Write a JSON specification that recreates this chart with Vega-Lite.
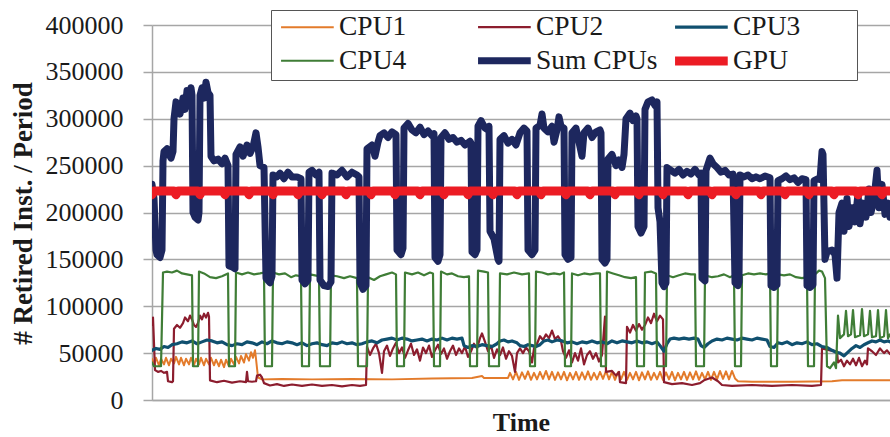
{
"$schema": "https://vega.github.io/schema/vega-lite/v6.json",
"width": 738, "height": 375,
"autosize": {"type": "none"},
"padding": {"left": 152, "top": 25, "right": 0, "bottom": 37},
"background": "white",
"config": {
  "view": {"stroke": null},
  "font": "Liberation Serif",
  "legend": {
    "orient": "none", "legendX": 119, "legendY": -15, "direction": "horizontal", "columns": 3,
    "symbolType": "M-2.85,0H2.85", "symbolSize": 342, "symbolOffset": 21.4, "labelOffset": 17.6,
    "labelFont": "Liberation Serif", "labelFontSize": 27.5,
    "labelColor": "#1a1a1a", "strokeColor": "#555555", "fillColor": "white", "padding": 1,
    "rowPadding": 0, "columnPadding": -1, "gridAlign": "all", "labelLimit": 300,
    "titleOrient": "right", "titlePadding": 56, "titleFontSize": 4
  }
},
"data": {"values": [
{"s":"CPU1","t":0,"v":44000},{"s":"CPU1","t":2,"v":38000},{"s":"CPU1","t":4,"v":45000},{"s":"CPU1","t":7,"v":37000},{"s":"CPU1","t":9,"v":44000},{"s":"CPU1","t":12,"v":38000},{"s":"CPU1","t":14,"v":45000},{"s":"CPU1","t":17,"v":37000},{"s":"CPU1","t":19,"v":44000},{"s":"CPU1","t":22,"v":39000},{"s":"CPU1","t":24,"v":46000},{"s":"CPU1","t":27,"v":38000},{"s":"CPU1","t":29,"v":45000},{"s":"CPU1","t":32,"v":37000},{"s":"CPU1","t":34,"v":44000},{"s":"CPU1","t":37,"v":38000},{"s":"CPU1","t":39,"v":45000},{"s":"CPU1","t":42,"v":37000},{"s":"CPU1","t":44,"v":44000},{"s":"CPU1","t":47,"v":38000},{"s":"CPU1","t":49,"v":45000},{"s":"CPU1","t":52,"v":37000},{"s":"CPU1","t":54,"v":44000},{"s":"CPU1","t":57,"v":38000},{"s":"CPU1","t":59,"v":45000},{"s":"CPU1","t":62,"v":37000},{"s":"CPU1","t":64,"v":43000},{"s":"CPU1","t":67,"v":36000},{"s":"CPU1","t":69,"v":43000},{"s":"CPU1","t":72,"v":35000},{"s":"CPU1","t":74,"v":43000},{"s":"CPU1","t":77,"v":36000},{"s":"CPU1","t":79,"v":44000},{"s":"CPU1","t":82,"v":38000},{"s":"CPU1","t":84,"v":46000},{"s":"CPU1","t":87,"v":39000},{"s":"CPU1","t":89,"v":47000},{"s":"CPU1","t":92,"v":40000},{"s":"CPU1","t":94,"v":49000},{"s":"CPU1","t":97,"v":42000},{"s":"CPU1","t":99,"v":51000},{"s":"CPU1","t":101,"v":45000},{"s":"CPU1","t":103,"v":53000},{"s":"CPU1","t":104,"v":44000},{"s":"CPU1","t":106,"v":24000},{"s":"CPU1","t":110,"v":22000},{"s":"CPU1","t":130,"v":22500},{"s":"CPU1","t":160,"v":22000},{"s":"CPU1","t":200,"v":22500},{"s":"CPU1","t":240,"v":22000},{"s":"CPU1","t":280,"v":23000},{"s":"CPU1","t":320,"v":23500},{"s":"CPU1","t":330,"v":25500},{"s":"CPU1","t":332,"v":23500},{"s":"CPU1","t":354,"v":23500},
{"s":"CPU1","t":356,"v":23500},{"s":"CPU1","t":358,"v":29000},{"s":"CPU1","t":361,"v":22000},{"s":"CPU1","t":364,"v":30000},{"s":"CPU1","t":367,"v":21500},{"s":"CPU1","t":370,"v":29500},{"s":"CPU1","t":373,"v":22500},{"s":"CPU1","t":376,"v":30500},{"s":"CPU1","t":379,"v":21500},{"s":"CPU1","t":382,"v":29000},{"s":"CPU1","t":385,"v":22000},{"s":"CPU1","t":388,"v":30000},{"s":"CPU1","t":391,"v":22500},{"s":"CPU1","t":394,"v":31000},{"s":"CPU1","t":397,"v":22000},{"s":"CPU1","t":400,"v":30000},{"s":"CPU1","t":403,"v":21500},{"s":"CPU1","t":406,"v":29500},{"s":"CPU1","t":409,"v":22000},{"s":"CPU1","t":412,"v":30000},{"s":"CPU1","t":415,"v":21000},{"s":"CPU1","t":418,"v":29000},{"s":"CPU1","t":421,"v":22000},{"s":"CPU1","t":424,"v":30000},{"s":"CPU1","t":427,"v":21500},{"s":"CPU1","t":430,"v":29500},{"s":"CPU1","t":433,"v":22000},{"s":"CPU1","t":436,"v":30500},{"s":"CPU1","t":439,"v":21500},{"s":"CPU1","t":442,"v":29000},{"s":"CPU1","t":445,"v":22000},{"s":"CPU1","t":448,"v":30000},{"s":"CPU1","t":451,"v":22500},{"s":"CPU1","t":454,"v":31000},{"s":"CPU1","t":457,"v":22000},{"s":"CPU1","t":460,"v":30000},{"s":"CPU1","t":463,"v":21500},{"s":"CPU1","t":466,"v":29500},{"s":"CPU1","t":469,"v":22000},{"s":"CPU1","t":472,"v":30000},{"s":"CPU1","t":475,"v":21500},{"s":"CPU1","t":478,"v":29000},{"s":"CPU1","t":481,"v":22000},{"s":"CPU1","t":484,"v":30000},{"s":"CPU1","t":487,"v":21000},{"s":"CPU1","t":490,"v":29500},{"s":"CPU1","t":493,"v":22000},{"s":"CPU1","t":496,"v":30500},{"s":"CPU1","t":499,"v":21500},{"s":"CPU1","t":502,"v":29000},{"s":"CPU1","t":505,"v":22000},{"s":"CPU1","t":508,"v":30000},{"s":"CPU1","t":511,"v":21500},{"s":"CPU1","t":514,"v":29500},{"s":"CPU1","t":517,"v":22000},{"s":"CPU1","t":520,"v":30000},{"s":"CPU1","t":523,"v":21000},{"s":"CPU1","t":526,"v":29000},{"s":"CPU1","t":529,"v":22000},{"s":"CPU1","t":532,"v":30000},{"s":"CPU1","t":535,"v":21500},{"s":"CPU1","t":538,"v":29500},{"s":"CPU1","t":541,"v":22000},{"s":"CPU1","t":544,"v":30500},{"s":"CPU1","t":547,"v":21500},{"s":"CPU1","t":550,"v":29000},{"s":"CPU1","t":553,"v":22000},{"s":"CPU1","t":556,"v":30000},{"s":"CPU1","t":559,"v":21500},{"s":"CPU1","t":562,"v":30000},{"s":"CPU1","t":565,"v":22000},{"s":"CPU1","t":568,"v":31000},{"s":"CPU1","t":571,"v":22500},{"s":"CPU1","t":574,"v":30500},{"s":"CPU1","t":577,"v":22000},{"s":"CPU1","t":580,"v":31000},{"s":"CPU1","t":583,"v":23000},{"s":"CPU1","t":586,"v":20000},{"s":"CPU1","t":600,"v":19500},{"s":"CPU1","t":640,"v":19500},{"s":"CPU1","t":680,"v":20000},{"s":"CPU1","t":690,"v":21000},{"s":"CPU1","t":738,"v":21000},
{"s":"CPU2","t":0,"v":80000},{"s":"CPU2","t":1,"v":88000},{"s":"CPU2","t":2,"v":60000},{"s":"CPU2","t":3,"v":32000},{"s":"CPU2","t":6,"v":30000},{"s":"CPU2","t":9,"v":31000},{"s":"CPU2","t":12,"v":29000},{"s":"CPU2","t":15,"v":30000},{"s":"CPU2","t":16,"v":20000},{"s":"CPU2","t":20,"v":19000},{"s":"CPU2","t":21,"v":20000},{"s":"CPU2","t":22,"v":76000},{"s":"CPU2","t":25,"v":80000},{"s":"CPU2","t":28,"v":77000},{"s":"CPU2","t":31,"v":82000},{"s":"CPU2","t":33,"v":88000},{"s":"CPU2","t":36,"v":84000},{"s":"CPU2","t":38,"v":90000},{"s":"CPU2","t":40,"v":86000},{"s":"CPU2","t":42,"v":80000},{"s":"CPU2","t":44,"v":78000},{"s":"CPU2","t":46,"v":82000},{"s":"CPU2","t":48,"v":90000},{"s":"CPU2","t":50,"v":86000},{"s":"CPU2","t":52,"v":92000},{"s":"CPU2","t":54,"v":88000},{"s":"CPU2","t":56,"v":93000},{"s":"CPU2","t":57,"v":89000},{"s":"CPU2","t":58,"v":21000},{"s":"CPU2","t":65,"v":19000},{"s":"CPU2","t":72,"v":20500},{"s":"CPU2","t":80,"v":18500},{"s":"CPU2","t":88,"v":20000},{"s":"CPU2","t":94,"v":19000},{"s":"CPU2","t":95,"v":30000},{"s":"CPU2","t":96,"v":20000},{"s":"CPU2","t":100,"v":19500},{"s":"CPU2","t":104,"v":20000},{"s":"CPU2","t":105,"v":26000},{"s":"CPU2","t":108,"v":27000},{"s":"CPU2","t":110,"v":24000},{"s":"CPU2","t":112,"v":18000},{"s":"CPU2","t":118,"v":15500},{"s":"CPU2","t":125,"v":17000},{"s":"CPU2","t":132,"v":15000},{"s":"CPU2","t":140,"v":16500},{"s":"CPU2","t":150,"v":15000},{"s":"CPU2","t":160,"v":16500},{"s":"CPU2","t":170,"v":15000},{"s":"CPU2","t":180,"v":16000},{"s":"CPU2","t":190,"v":14500},{"s":"CPU2","t":200,"v":16000},{"s":"CPU2","t":208,"v":15000},{"s":"CPU2","t":214,"v":16000},
{"s":"CPU2","t":215,"v":57000},{"s":"CPU2","t":218,"v":48000},{"s":"CPU2","t":221,"v":55000},{"s":"CPU2","t":224,"v":60000},{"s":"CPU2","t":227,"v":50000},{"s":"CPU2","t":230,"v":29000},{"s":"CPU2","t":232,"v":52000},{"s":"CPU2","t":235,"v":58000},{"s":"CPU2","t":238,"v":47000},{"s":"CPU2","t":241,"v":55000},{"s":"CPU2","t":244,"v":61000},{"s":"CPU2","t":247,"v":50000},{"s":"CPU2","t":250,"v":56000},{"s":"CPU2","t":253,"v":45000},{"s":"CPU2","t":256,"v":53000},{"s":"CPU2","t":259,"v":60000},{"s":"CPU2","t":262,"v":48000},{"s":"CPU2","t":265,"v":54000},{"s":"CPU2","t":268,"v":42000},{"s":"CPU2","t":271,"v":56000},{"s":"CPU2","t":274,"v":50000},{"s":"CPU2","t":277,"v":58000},{"s":"CPU2","t":280,"v":46000},{"s":"CPU2","t":283,"v":53000},{"s":"CPU2","t":286,"v":59000},{"s":"CPU2","t":289,"v":49000},{"s":"CPU2","t":292,"v":55000},{"s":"CPU2","t":295,"v":44000},{"s":"CPU2","t":298,"v":52000},{"s":"CPU2","t":301,"v":58000},{"s":"CPU2","t":304,"v":48000},{"s":"CPU2","t":307,"v":55000},{"s":"CPU2","t":310,"v":50000},{"s":"CPU2","t":313,"v":57000},{"s":"CPU2","t":316,"v":46000},{"s":"CPU2","t":319,"v":52000},{"s":"CPU2","t":322,"v":60000},{"s":"CPU2","t":325,"v":55000},{"s":"CPU2","t":328,"v":66000},{"s":"CPU2","t":330,"v":71000},{"s":"CPU2","t":333,"v":62000},{"s":"CPU2","t":336,"v":52000},{"s":"CPU2","t":339,"v":58000},{"s":"CPU2","t":342,"v":45000},{"s":"CPU2","t":345,"v":54000},{"s":"CPU2","t":348,"v":48000},{"s":"CPU2","t":351,"v":56000},{"s":"CPU2","t":354,"v":44000},{"s":"CPU2","t":357,"v":52000},{"s":"CPU2","t":360,"v":47000},{"s":"CPU2","t":363,"v":30000},{"s":"CPU2","t":365,"v":50000},{"s":"CPU2","t":368,"v":55000},{"s":"CPU2","t":371,"v":50000},{"s":"CPU2","t":374,"v":56000},{"s":"CPU2","t":377,"v":52000},{"s":"CPU2","t":380,"v":40000},{"s":"CPU2","t":382,"v":55000},{"s":"CPU2","t":385,"v":60000},{"s":"CPU2","t":388,"v":68000},{"s":"CPU2","t":391,"v":64000},{"s":"CPU2","t":394,"v":70000},{"s":"CPU2","t":397,"v":66000},{"s":"CPU2","t":400,"v":74000},{"s":"CPU2","t":403,"v":65000},{"s":"CPU2","t":406,"v":68000},{"s":"CPU2","t":409,"v":63000},{"s":"CPU2","t":411,"v":52000},{"s":"CPU2","t":414,"v":45000},{"s":"CPU2","t":417,"v":53000},{"s":"CPU2","t":420,"v":40000},{"s":"CPU2","t":423,"v":50000},{"s":"CPU2","t":426,"v":42000},{"s":"CPU2","t":429,"v":55000},{"s":"CPU2","t":432,"v":38000},{"s":"CPU2","t":435,"v":48000},{"s":"CPU2","t":438,"v":52000},{"s":"CPU2","t":441,"v":44000},{"s":"CPU2","t":444,"v":50000},{"s":"CPU2","t":447,"v":41000},{"s":"CPU2","t":450,"v":48000},{"s":"CPU2","t":453,"v":89000},{"s":"CPU2","t":454,"v":30000},{"s":"CPU2","t":460,"v":31000},{"s":"CPU2","t":464,"v":26000},{"s":"CPU2","t":467,"v":30000},{"s":"CPU2","t":468,"v":19000},{"s":"CPU2","t":474,"v":18000},{"s":"CPU2","t":475,"v":78000},{"s":"CPU2","t":478,"v":72000},{"s":"CPU2","t":481,"v":80000},{"s":"CPU2","t":484,"v":74000},{"s":"CPU2","t":487,"v":81000},{"s":"CPU2","t":490,"v":75000},{"s":"CPU2","t":493,"v":80000},{"s":"CPU2","t":496,"v":88000},{"s":"CPU2","t":499,"v":82000},{"s":"CPU2","t":502,"v":92000},{"s":"CPU2","t":505,"v":84000},{"s":"CPU2","t":508,"v":90000},{"s":"CPU2","t":511,"v":86000},{"s":"CPU2","t":512,"v":19000},{"s":"CPU2","t":520,"v":17000},{"s":"CPU2","t":530,"v":18000},{"s":"CPU2","t":540,"v":16000},{"s":"CPU2","t":548,"v":18000},{"s":"CPU2","t":552,"v":21000},{"s":"CPU2","t":560,"v":24000},{"s":"CPU2","t":566,"v":20000},{"s":"CPU2","t":570,"v":16000},{"s":"CPU2","t":580,"v":15000},{"s":"CPU2","t":600,"v":16000},{"s":"CPU2","t":620,"v":15000},{"s":"CPU2","t":640,"v":16000},{"s":"CPU2","t":660,"v":15000},{"s":"CPU2","t":669,"v":16000},{"s":"CPU2","t":670,"v":55000},{"s":"CPU2","t":678,"v":53000},{"s":"CPU2","t":685,"v":52000},{"s":"CPU2","t":686,"v":40000},{"s":"CPU2","t":689,"v":43000},{"s":"CPU2","t":692,"v":36000},{"s":"CPU2","t":695,"v":42000},{"s":"CPU2","t":698,"v":38000},{"s":"CPU2","t":701,"v":44000},{"s":"CPU2","t":704,"v":37000},{"s":"CPU2","t":707,"v":45000},{"s":"CPU2","t":710,"v":36000},{"s":"CPU2","t":713,"v":42000},{"s":"CPU2","t":715,"v":38000},{"s":"CPU2","t":716,"v":55000},{"s":"CPU2","t":720,"v":52000},{"s":"CPU2","t":724,"v":48000},{"s":"CPU2","t":728,"v":55000},{"s":"CPU2","t":732,"v":50000},{"s":"CPU2","t":735,"v":53000},{"s":"CPU2","t":738,"v":49000},
{"s":"CPU3","t":0,"v":53000},{"s":"CPU3","t":4,"v":55000},{"s":"CPU3","t":8,"v":54000},{"s":"CPU3","t":12,"v":57000},{"s":"CPU3","t":16,"v":56000},{"s":"CPU3","t":20,"v":59000},{"s":"CPU3","t":25,"v":60000},{"s":"CPU3","t":30,"v":62000},{"s":"CPU3","t":35,"v":61000},{"s":"CPU3","t":40,"v":63000},{"s":"CPU3","t":45,"v":60000},{"s":"CPU3","t":50,"v":62000},{"s":"CPU3","t":55,"v":64000},{"s":"CPU3","t":60,"v":63000},{"s":"CPU3","t":65,"v":61000},{"s":"CPU3","t":70,"v":62000},{"s":"CPU3","t":75,"v":59000},{"s":"CPU3","t":80,"v":58000},{"s":"CPU3","t":85,"v":60000},{"s":"CPU3","t":90,"v":59000},{"s":"CPU3","t":95,"v":62000},{"s":"CPU3","t":100,"v":61000},{"s":"CPU3","t":105,"v":59000},{"s":"CPU3","t":110,"v":62000},{"s":"CPU3","t":115,"v":60000},{"s":"CPU3","t":120,"v":63000},{"s":"CPU3","t":125,"v":61000},{"s":"CPU3","t":130,"v":60000},{"s":"CPU3","t":135,"v":62000},{"s":"CPU3","t":140,"v":61000},{"s":"CPU3","t":145,"v":59000},{"s":"CPU3","t":150,"v":61000},{"s":"CPU3","t":155,"v":58000},{"s":"CPU3","t":160,"v":60000},{"s":"CPU3","t":165,"v":61000},{"s":"CPU3","t":170,"v":59000},{"s":"CPU3","t":175,"v":58000},{"s":"CPU3","t":180,"v":61000},{"s":"CPU3","t":185,"v":60000},{"s":"CPU3","t":190,"v":62000},{"s":"CPU3","t":195,"v":60000},{"s":"CPU3","t":200,"v":61000},{"s":"CPU3","t":205,"v":59000},{"s":"CPU3","t":210,"v":60000},{"s":"CPU3","t":215,"v":62000},{"s":"CPU3","t":220,"v":63000},{"s":"CPU3","t":225,"v":61000},{"s":"CPU3","t":230,"v":64000},{"s":"CPU3","t":235,"v":65000},{"s":"CPU3","t":240,"v":66000},{"s":"CPU3","t":245,"v":64000},{"s":"CPU3","t":250,"v":66000},{"s":"CPU3","t":255,"v":65000},{"s":"CPU3","t":260,"v":63000},{"s":"CPU3","t":265,"v":64000},{"s":"CPU3","t":270,"v":65000},{"s":"CPU3","t":275,"v":63000},{"s":"CPU3","t":280,"v":65000},{"s":"CPU3","t":285,"v":64000},{"s":"CPU3","t":290,"v":66000},{"s":"CPU3","t":295,"v":64000},{"s":"CPU3","t":300,"v":66000},{"s":"CPU3","t":305,"v":65000},{"s":"CPU3","t":310,"v":66000},{"s":"CPU3","t":312,"v":58000},{"s":"CPU3","t":316,"v":56000},{"s":"CPU3","t":320,"v":58000},{"s":"CPU3","t":325,"v":57000},{"s":"CPU3","t":330,"v":59000},{"s":"CPU3","t":335,"v":58000},{"s":"CPU3","t":340,"v":57000},{"s":"CPU3","t":345,"v":60000},{"s":"CPU3","t":348,"v":63000},{"s":"CPU3","t":352,"v":64000},{"s":"CPU3","t":356,"v":62000},{"s":"CPU3","t":360,"v":63000},{"s":"CPU3","t":365,"v":61000},{"s":"CPU3","t":368,"v":58000},{"s":"CPU3","t":372,"v":57000},{"s":"CPU3","t":376,"v":59000},{"s":"CPU3","t":380,"v":58000},{"s":"CPU3","t":384,"v":57000},{"s":"CPU3","t":388,"v":59000},{"s":"CPU3","t":392,"v":63000},{"s":"CPU3","t":396,"v":64000},{"s":"CPU3","t":400,"v":62000},{"s":"CPU3","t":405,"v":64000},{"s":"CPU3","t":410,"v":63000},{"s":"CPU3","t":415,"v":61000},{"s":"CPU3","t":420,"v":62000},{"s":"CPU3","t":425,"v":60000},{"s":"CPU3","t":430,"v":62000},{"s":"CPU3","t":435,"v":61000},{"s":"CPU3","t":440,"v":63000},{"s":"CPU3","t":445,"v":61000},{"s":"CPU3","t":450,"v":62000},{"s":"CPU3","t":455,"v":60000},{"s":"CPU3","t":460,"v":63000},{"s":"CPU3","t":465,"v":61000},{"s":"CPU3","t":470,"v":63000},{"s":"CPU3","t":475,"v":62000},{"s":"CPU3","t":480,"v":61000},{"s":"CPU3","t":485,"v":63000},{"s":"CPU3","t":490,"v":61000},{"s":"CPU3","t":495,"v":62000},{"s":"CPU3","t":500,"v":60000},{"s":"CPU3","t":505,"v":62000},{"s":"CPU3","t":508,"v":58000},{"s":"CPU3","t":512,"v":52000},{"s":"CPU3","t":515,"v":60000},{"s":"CPU3","t":518,"v":65000},{"s":"CPU3","t":522,"v":66000},{"s":"CPU3","t":527,"v":65000},{"s":"CPU3","t":532,"v":66000},{"s":"CPU3","t":537,"v":65000},{"s":"CPU3","t":542,"v":66000},{"s":"CPU3","t":546,"v":65000},{"s":"CPU3","t":549,"v":58000},{"s":"CPU3","t":552,"v":56000},{"s":"CPU3","t":556,"v":60000},{"s":"CPU3","t":560,"v":63000},{"s":"CPU3","t":565,"v":65000},{"s":"CPU3","t":570,"v":64000},{"s":"CPU3","t":575,"v":66000},{"s":"CPU3","t":580,"v":65000},{"s":"CPU3","t":585,"v":64000},{"s":"CPU3","t":590,"v":66000},{"s":"CPU3","t":595,"v":65000},{"s":"CPU3","t":600,"v":64000},{"s":"CPU3","t":605,"v":66000},{"s":"CPU3","t":610,"v":65000},{"s":"CPU3","t":615,"v":64000},{"s":"CPU3","t":618,"v":57000},{"s":"CPU3","t":622,"v":56000},{"s":"CPU3","t":626,"v":61000},{"s":"CPU3","t":630,"v":60000},{"s":"CPU3","t":635,"v":62000},{"s":"CPU3","t":640,"v":59000},{"s":"CPU3","t":645,"v":61000},{"s":"CPU3","t":650,"v":60000},{"s":"CPU3","t":655,"v":62000},{"s":"CPU3","t":660,"v":59000},{"s":"CPU3","t":665,"v":60000},{"s":"CPU3","t":670,"v":57000},{"s":"CPU3","t":675,"v":56000},{"s":"CPU3","t":680,"v":53000},{"s":"CPU3","t":684,"v":51000},{"s":"CPU3","t":688,"v":50000},{"s":"CPU3","t":692,"v":47000},{"s":"CPU3","t":696,"v":51000},{"s":"CPU3","t":700,"v":55000},{"s":"CPU3","t":704,"v":58000},{"s":"CPU3","t":708,"v":56000},{"s":"CPU3","t":712,"v":59000},{"s":"CPU3","t":716,"v":61000},{"s":"CPU3","t":720,"v":63000},{"s":"CPU3","t":724,"v":62000},{"s":"CPU3","t":728,"v":64000},{"s":"CPU3","t":732,"v":62000},{"s":"CPU3","t":736,"v":63000},{"s":"CPU3","t":738,"v":62000},
{"s":"CPU4","t":0,"v":40000},{"s":"CPU4","t":2,"v":36000},{"s":"CPU4","t":9,"v":36000},{"s":"CPU4","t":11,"v":136000},{"s":"CPU4","t":15,"v":137000},{"s":"CPU4","t":20,"v":136000},{"s":"CPU4","t":25,"v":138000},{"s":"CPU4","t":30,"v":135000},{"s":"CPU4","t":35,"v":134000},{"s":"CPU4","t":40,"v":133000},{"s":"CPU4","t":41,"v":36000},{"s":"CPU4","t":46,"v":36000},{"s":"CPU4","t":47,"v":137000},{"s":"CPU4","t":52,"v":135000},{"s":"CPU4","t":58,"v":131000},{"s":"CPU4","t":64,"v":130000},{"s":"CPU4","t":70,"v":132000},{"s":"CPU4","t":76,"v":135000},{"s":"CPU4","t":77,"v":36000},{"s":"CPU4","t":83,"v":36000},{"s":"CPU4","t":84,"v":136000},{"s":"CPU4","t":90,"v":134000},{"s":"CPU4","t":96,"v":136000},{"s":"CPU4","t":102,"v":134000},{"s":"CPU4","t":108,"v":135000},{"s":"CPU4","t":112,"v":136000},{"s":"CPU4","t":113,"v":36000},{"s":"CPU4","t":120,"v":36000},{"s":"CPU4","t":121,"v":136000},{"s":"CPU4","t":127,"v":134000},{"s":"CPU4","t":133,"v":135000},{"s":"CPU4","t":139,"v":131000},{"s":"CPU4","t":144,"v":133000},{"s":"CPU4","t":149,"v":132000},{"s":"CPU4","t":150,"v":36000},{"s":"CPU4","t":157,"v":36000},{"s":"CPU4","t":158,"v":134000},{"s":"CPU4","t":163,"v":133000},{"s":"CPU4","t":167,"v":132000},{"s":"CPU4","t":168,"v":36000},{"s":"CPU4","t":178,"v":36000},{"s":"CPU4","t":179,"v":133000},{"s":"CPU4","t":185,"v":132000},{"s":"CPU4","t":192,"v":130000},{"s":"CPU4","t":198,"v":132000},{"s":"CPU4","t":205,"v":130000},{"s":"CPU4","t":206,"v":36000},{"s":"CPU4","t":215,"v":36000},{"s":"CPU4","t":216,"v":131000},{"s":"CPU4","t":222,"v":128000},{"s":"CPU4","t":228,"v":132000},{"s":"CPU4","t":234,"v":134000},{"s":"CPU4","t":240,"v":136000},{"s":"CPU4","t":244,"v":134000},{"s":"CPU4","t":245,"v":36000},{"s":"CPU4","t":252,"v":36000},{"s":"CPU4","t":253,"v":136000},{"s":"CPU4","t":260,"v":134000},{"s":"CPU4","t":266,"v":136000},{"s":"CPU4","t":272,"v":133000},{"s":"CPU4","t":278,"v":136000},{"s":"CPU4","t":281,"v":135000},{"s":"CPU4","t":282,"v":36000},{"s":"CPU4","t":288,"v":36000},{"s":"CPU4","t":289,"v":137000},{"s":"CPU4","t":295,"v":134000},{"s":"CPU4","t":300,"v":135000},{"s":"CPU4","t":306,"v":132000},{"s":"CPU4","t":312,"v":131000},{"s":"CPU4","t":317,"v":132000},{"s":"CPU4","t":318,"v":36000},{"s":"CPU4","t":325,"v":36000},{"s":"CPU4","t":326,"v":138000},{"s":"CPU4","t":332,"v":137000},{"s":"CPU4","t":336,"v":136000},{"s":"CPU4","t":337,"v":36000},{"s":"CPU4","t":347,"v":36000},{"s":"CPU4","t":348,"v":135000},{"s":"CPU4","t":355,"v":134000},{"s":"CPU4","t":362,"v":136000},{"s":"CPU4","t":370,"v":134000},{"s":"CPU4","t":377,"v":135000},{"s":"CPU4","t":378,"v":36000},{"s":"CPU4","t":383,"v":36000},{"s":"CPU4","t":384,"v":137000},{"s":"CPU4","t":390,"v":136000},{"s":"CPU4","t":396,"v":134000},{"s":"CPU4","t":402,"v":135000},{"s":"CPU4","t":408,"v":134000},{"s":"CPU4","t":412,"v":136000},{"s":"CPU4","t":413,"v":36000},{"s":"CPU4","t":419,"v":36000},{"s":"CPU4","t":420,"v":135000},{"s":"CPU4","t":426,"v":133000},{"s":"CPU4","t":432,"v":135000},{"s":"CPU4","t":438,"v":134000},{"s":"CPU4","t":444,"v":135000},{"s":"CPU4","t":448,"v":135000},{"s":"CPU4","t":449,"v":36000},{"s":"CPU4","t":454,"v":36000},{"s":"CPU4","t":455,"v":137000},{"s":"CPU4","t":461,"v":135000},{"s":"CPU4","t":467,"v":133000},{"s":"CPU4","t":473,"v":131000},{"s":"CPU4","t":479,"v":130000},{"s":"CPU4","t":484,"v":131000},{"s":"CPU4","t":485,"v":36000},{"s":"CPU4","t":492,"v":36000},{"s":"CPU4","t":493,"v":136000},{"s":"CPU4","t":499,"v":137000},{"s":"CPU4","t":504,"v":135000},{"s":"CPU4","t":505,"v":36000},{"s":"CPU4","t":514,"v":36000},{"s":"CPU4","t":515,"v":133000},{"s":"CPU4","t":521,"v":131000},{"s":"CPU4","t":527,"v":133000},{"s":"CPU4","t":533,"v":135000},{"s":"CPU4","t":539,"v":134000},{"s":"CPU4","t":543,"v":134000},{"s":"CPU4","t":544,"v":36000},{"s":"CPU4","t":552,"v":36000},{"s":"CPU4","t":553,"v":133000},{"s":"CPU4","t":560,"v":131000},{"s":"CPU4","t":566,"v":132000},{"s":"CPU4","t":572,"v":134000},{"s":"CPU4","t":578,"v":131000},{"s":"CPU4","t":582,"v":133000},{"s":"CPU4","t":583,"v":36000},{"s":"CPU4","t":589,"v":36000},{"s":"CPU4","t":590,"v":133000},{"s":"CPU4","t":596,"v":135000},{"s":"CPU4","t":602,"v":134000},{"s":"CPU4","t":608,"v":135000},{"s":"CPU4","t":614,"v":134000},{"s":"CPU4","t":618,"v":135000},{"s":"CPU4","t":619,"v":36000},{"s":"CPU4","t":625,"v":36000},{"s":"CPU4","t":626,"v":134000},{"s":"CPU4","t":632,"v":133000},{"s":"CPU4","t":638,"v":134000},{"s":"CPU4","t":644,"v":131000},{"s":"CPU4","t":650,"v":130000},{"s":"CPU4","t":655,"v":131000},{"s":"CPU4","t":656,"v":36000},{"s":"CPU4","t":662,"v":36000},{"s":"CPU4","t":663,"v":134000},{"s":"CPU4","t":667,"v":138000},{"s":"CPU4","t":670,"v":137000},{"s":"CPU4","t":673,"v":130000},{"s":"CPU4","t":675,"v":36000},{"s":"CPU4","t":678,"v":34000},{"s":"CPU4","t":682,"v":40000},{"s":"CPU4","t":684,"v":34000},{"s":"CPU4","t":686,"v":90000},{"s":"CPU4","t":688,"v":66000},{"s":"CPU4","t":692,"v":70000},{"s":"CPU4","t":694,"v":95000},{"s":"CPU4","t":696,"v":68000},{"s":"CPU4","t":699,"v":70000},{"s":"CPU4","t":701,"v":96000},{"s":"CPU4","t":703,"v":67000},{"s":"CPU4","t":708,"v":69000},{"s":"CPU4","t":710,"v":97000},{"s":"CPU4","t":712,"v":68000},{"s":"CPU4","t":716,"v":70000},{"s":"CPU4","t":718,"v":95000},{"s":"CPU4","t":720,"v":67000},{"s":"CPU4","t":724,"v":68000},{"s":"CPU4","t":726,"v":96000},{"s":"CPU4","t":728,"v":66000},{"s":"CPU4","t":732,"v":68000},{"s":"CPU4","t":734,"v":96000},{"s":"CPU4","t":736,"v":66000},{"s":"CPU4","t":738,"v":70000},
{"s":"Sum CPUs","t":0,"v":230000},{"s":"Sum CPUs","t":2,"v":215000},{"s":"Sum CPUs","t":4,"v":160000},{"s":"Sum CPUs","t":5,"v":155000},{"s":"Sum CPUs","t":8,"v":152000},{"s":"Sum CPUs","t":10,"v":160000},{"s":"Sum CPUs","t":11,"v":255000},{"s":"Sum CPUs","t":12,"v":265000},{"s":"Sum CPUs","t":15,"v":268000},{"s":"Sum CPUs","t":17,"v":262000},{"s":"Sum CPUs","t":19,"v":258000},{"s":"Sum CPUs","t":21,"v":265000},{"s":"Sum CPUs","t":22,"v":300000},{"s":"Sum CPUs","t":24,"v":318000},{"s":"Sum CPUs","t":26,"v":310000},{"s":"Sum CPUs","t":28,"v":305000},{"s":"Sum CPUs","t":30,"v":315000},{"s":"Sum CPUs","t":31,"v":322000},{"s":"Sum CPUs","t":33,"v":310000},{"s":"Sum CPUs","t":35,"v":330000},{"s":"Sum CPUs","t":37,"v":318000},{"s":"Sum CPUs","t":39,"v":333000},{"s":"Sum CPUs","t":40,"v":325000},{"s":"Sum CPUs","t":41,"v":200000},{"s":"Sum CPUs","t":43,"v":195000},{"s":"Sum CPUs","t":46,"v":192000},{"s":"Sum CPUs","t":47,"v":200000},{"s":"Sum CPUs","t":48,"v":325000},{"s":"Sum CPUs","t":50,"v":333000},{"s":"Sum CPUs","t":52,"v":322000},{"s":"Sum CPUs","t":54,"v":339000},{"s":"Sum CPUs","t":56,"v":328000},{"s":"Sum CPUs","t":58,"v":325000},{"s":"Sum CPUs","t":59,"v":260000},{"s":"Sum CPUs","t":62,"v":255000},{"s":"Sum CPUs","t":66,"v":257000},{"s":"Sum CPUs","t":70,"v":252000},{"s":"Sum CPUs","t":73,"v":258000},{"s":"Sum CPUs","t":76,"v":250000},{"s":"Sum CPUs","t":77,"v":143000},{"s":"Sum CPUs","t":80,"v":142000},{"s":"Sum CPUs","t":83,"v":140000},{"s":"Sum CPUs","t":84,"v":262000},{"s":"Sum CPUs","t":88,"v":270000},{"s":"Sum CPUs","t":91,"v":260000},{"s":"Sum CPUs","t":95,"v":272000},{"s":"Sum CPUs","t":98,"v":263000},{"s":"Sum CPUs","t":101,"v":270000},{"s":"Sum CPUs","t":104,"v":285000},{"s":"Sum CPUs","t":106,"v":270000},{"s":"Sum CPUs","t":108,"v":250000},{"s":"Sum CPUs","t":112,"v":248000},{"s":"Sum CPUs","t":114,"v":130000},{"s":"Sum CPUs","t":118,"v":125000},{"s":"Sum CPUs","t":120,"v":132000},{"s":"Sum CPUs","t":121,"v":240000},{"s":"Sum CPUs","t":125,"v":238000},{"s":"Sum CPUs","t":128,"v":242000},{"s":"Sum CPUs","t":132,"v":236000},{"s":"Sum CPUs","t":136,"v":243000},{"s":"Sum CPUs","t":140,"v":238000},{"s":"Sum CPUs","t":145,"v":238000},{"s":"Sum CPUs","t":149,"v":236000},{"s":"Sum CPUs","t":150,"v":128000},{"s":"Sum CPUs","t":153,"v":124000},{"s":"Sum CPUs","t":156,"v":128000},{"s":"Sum CPUs","t":157,"v":243000},{"s":"Sum CPUs","t":160,"v":245000},{"s":"Sum CPUs","t":164,"v":240000},{"s":"Sum CPUs","t":167,"v":243000},{"s":"Sum CPUs","t":168,"v":128000},{"s":"Sum CPUs","t":172,"v":122000},{"s":"Sum CPUs","t":176,"v":121000},{"s":"Sum CPUs","t":179,"v":126000},{"s":"Sum CPUs","t":180,"v":242000},{"s":"Sum CPUs","t":185,"v":240000},{"s":"Sum CPUs","t":190,"v":245000},{"s":"Sum CPUs","t":195,"v":238000},{"s":"Sum CPUs","t":200,"v":243000},{"s":"Sum CPUs","t":205,"v":240000},{"s":"Sum CPUs","t":207,"v":238000},{"s":"Sum CPUs","t":208,"v":125000},{"s":"Sum CPUs","t":211,"v":118000},{"s":"Sum CPUs","t":214,"v":122000},{"s":"Sum CPUs","t":215,"v":268000},{"s":"Sum CPUs","t":220,"v":272000},{"s":"Sum CPUs","t":223,"v":260000},{"s":"Sum CPUs","t":226,"v":275000},{"s":"Sum CPUs","t":228,"v":282000},{"s":"Sum CPUs","t":232,"v":285000},{"s":"Sum CPUs","t":236,"v":280000},{"s":"Sum CPUs","t":240,"v":286000},{"s":"Sum CPUs","t":244,"v":283000},{"s":"Sum CPUs","t":245,"v":160000},{"s":"Sum CPUs","t":249,"v":155000},{"s":"Sum CPUs","t":251,"v":162000},{"s":"Sum CPUs","t":252,"v":290000},{"s":"Sum CPUs","t":256,"v":295000},{"s":"Sum CPUs","t":260,"v":288000},{"s":"Sum CPUs","t":264,"v":285000},{"s":"Sum CPUs","t":268,"v":291000},{"s":"Sum CPUs","t":272,"v":283000},{"s":"Sum CPUs","t":276,"v":287000},{"s":"Sum CPUs","t":280,"v":282000},{"s":"Sum CPUs","t":282,"v":284000},{"s":"Sum CPUs","t":283,"v":152000},{"s":"Sum CPUs","t":286,"v":148000},{"s":"Sum CPUs","t":288,"v":155000},{"s":"Sum CPUs","t":289,"v":280000},{"s":"Sum CPUs","t":293,"v":285000},{"s":"Sum CPUs","t":297,"v":278000},{"s":"Sum CPUs","t":301,"v":280000},{"s":"Sum CPUs","t":305,"v":275000},{"s":"Sum CPUs","t":309,"v":277000},{"s":"Sum CPUs","t":313,"v":272000},{"s":"Sum CPUs","t":318,"v":276000},{"s":"Sum CPUs","t":319,"v":274000},{"s":"Sum CPUs","t":320,"v":158000},{"s":"Sum CPUs","t":323,"v":155000},{"s":"Sum CPUs","t":325,"v":160000},{"s":"Sum CPUs","t":326,"v":292000},{"s":"Sum CPUs","t":329,"v":298000},{"s":"Sum CPUs","t":333,"v":290000},{"s":"Sum CPUs","t":336,"v":288000},{"s":"Sum CPUs","t":337,"v":292000},{"s":"Sum CPUs","t":338,"v":180000},{"s":"Sum CPUs","t":342,"v":172000},{"s":"Sum CPUs","t":346,"v":150000},{"s":"Sum CPUs","t":347,"v":148000},{"s":"Sum CPUs","t":348,"v":278000},{"s":"Sum CPUs","t":352,"v":282000},{"s":"Sum CPUs","t":356,"v":274000},{"s":"Sum CPUs","t":360,"v":278000},{"s":"Sum CPUs","t":364,"v":272000},{"s":"Sum CPUs","t":368,"v":285000},{"s":"Sum CPUs","t":372,"v":290000},{"s":"Sum CPUs","t":375,"v":287000},{"s":"Sum CPUs","t":376,"v":160000},{"s":"Sum CPUs","t":380,"v":155000},{"s":"Sum CPUs","t":383,"v":160000},{"s":"Sum CPUs","t":384,"v":290000},{"s":"Sum CPUs","t":388,"v":293000},{"s":"Sum CPUs","t":390,"v":305000},{"s":"Sum CPUs","t":392,"v":290000},{"s":"Sum CPUs","t":396,"v":286000},{"s":"Sum CPUs","t":400,"v":292000},{"s":"Sum CPUs","t":402,"v":275000},{"s":"Sum CPUs","t":405,"v":288000},{"s":"Sum CPUs","t":407,"v":302000},{"s":"Sum CPUs","t":409,"v":292000},{"s":"Sum CPUs","t":412,"v":290000},{"s":"Sum CPUs","t":413,"v":155000},{"s":"Sum CPUs","t":416,"v":150000},{"s":"Sum CPUs","t":419,"v":152000},{"s":"Sum CPUs","t":420,"v":285000},{"s":"Sum CPUs","t":424,"v":290000},{"s":"Sum CPUs","t":427,"v":275000},{"s":"Sum CPUs","t":430,"v":260000},{"s":"Sum CPUs","t":432,"v":285000},{"s":"Sum CPUs","t":436,"v":290000},{"s":"Sum CPUs","t":440,"v":280000},{"s":"Sum CPUs","t":444,"v":286000},{"s":"Sum CPUs","t":448,"v":288000},{"s":"Sum CPUs","t":449,"v":285000},{"s":"Sum CPUs","t":450,"v":150000},{"s":"Sum CPUs","t":453,"v":146000},{"s":"Sum CPUs","t":455,"v":150000},{"s":"Sum CPUs","t":456,"v":257000},{"s":"Sum CPUs","t":460,"v":262000},{"s":"Sum CPUs","t":464,"v":250000},{"s":"Sum CPUs","t":467,"v":256000},{"s":"Sum CPUs","t":470,"v":248000},{"s":"Sum CPUs","t":472,"v":262000},{"s":"Sum CPUs","t":474,"v":300000},{"s":"Sum CPUs","t":478,"v":306000},{"s":"Sum CPUs","t":481,"v":298000},{"s":"Sum CPUs","t":484,"v":303000},{"s":"Sum CPUs","t":485,"v":300000},{"s":"Sum CPUs","t":486,"v":185000},{"s":"Sum CPUs","t":489,"v":178000},{"s":"Sum CPUs","t":492,"v":185000},{"s":"Sum CPUs","t":493,"v":310000},{"s":"Sum CPUs","t":496,"v":318000},{"s":"Sum CPUs","t":500,"v":320000},{"s":"Sum CPUs","t":503,"v":314000},{"s":"Sum CPUs","t":505,"v":318000},{"s":"Sum CPUs","t":506,"v":205000},{"s":"Sum CPUs","t":508,"v":190000},{"s":"Sum CPUs","t":510,"v":125000},{"s":"Sum CPUs","t":512,"v":121000},{"s":"Sum CPUs","t":514,"v":125000},{"s":"Sum CPUs","t":515,"v":248000},{"s":"Sum CPUs","t":519,"v":245000},{"s":"Sum CPUs","t":523,"v":242000},{"s":"Sum CPUs","t":527,"v":246000},{"s":"Sum CPUs","t":531,"v":240000},{"s":"Sum CPUs","t":535,"v":244000},{"s":"Sum CPUs","t":539,"v":241000},{"s":"Sum CPUs","t":543,"v":246000},{"s":"Sum CPUs","t":547,"v":240000},{"s":"Sum CPUs","t":549,"v":242000},{"s":"Sum CPUs","t":550,"v":130000},{"s":"Sum CPUs","t":553,"v":127000},{"s":"Sum CPUs","t":554,"v":245000},{"s":"Sum CPUs","t":558,"v":258000},{"s":"Sum CPUs","t":561,"v":252000},{"s":"Sum CPUs","t":565,"v":248000},{"s":"Sum CPUs","t":569,"v":243000},{"s":"Sum CPUs","t":573,"v":245000},{"s":"Sum CPUs","t":577,"v":240000},{"s":"Sum CPUs","t":581,"v":241000},{"s":"Sum CPUs","t":583,"v":125000},{"s":"Sum CPUs","t":586,"v":122000},{"s":"Sum CPUs","t":587,"v":126000},{"s":"Sum CPUs","t":588,"v":240000},{"s":"Sum CPUs","t":592,"v":238000},{"s":"Sum CPUs","t":596,"v":240000},{"s":"Sum CPUs","t":600,"v":236000},{"s":"Sum CPUs","t":604,"v":238000},{"s":"Sum CPUs","t":608,"v":236000},{"s":"Sum CPUs","t":613,"v":239000},{"s":"Sum CPUs","t":618,"v":237000},{"s":"Sum CPUs","t":619,"v":122000},{"s":"Sum CPUs","t":622,"v":120000},{"s":"Sum CPUs","t":625,"v":123000},{"s":"Sum CPUs","t":626,"v":234000},{"s":"Sum CPUs","t":630,"v":236000},{"s":"Sum CPUs","t":634,"v":239000},{"s":"Sum CPUs","t":638,"v":235000},{"s":"Sum CPUs","t":642,"v":237000},{"s":"Sum CPUs","t":646,"v":232000},{"s":"Sum CPUs","t":650,"v":236000},{"s":"Sum CPUs","t":654,"v":235000},{"s":"Sum CPUs","t":655,"v":122000},{"s":"Sum CPUs","t":658,"v":120000},{"s":"Sum CPUs","t":661,"v":123000},{"s":"Sum CPUs","t":662,"v":234000},{"s":"Sum CPUs","t":666,"v":236000},{"s":"Sum CPUs","t":668,"v":235000},{"s":"Sum CPUs","t":670,"v":265000},{"s":"Sum CPUs","t":671,"v":262000},{"s":"Sum CPUs","t":673,"v":150000},{"s":"Sum CPUs","t":675,"v":158000},{"s":"Sum CPUs","t":680,"v":160000},{"s":"Sum CPUs","t":683,"v":155000},{"s":"Sum CPUs","t":685,"v":130000},{"s":"Sum CPUs","t":687,"v":200000},{"s":"Sum CPUs","t":690,"v":210000},{"s":"Sum CPUs","t":692,"v":180000},{"s":"Sum CPUs","t":695,"v":215000},{"s":"Sum CPUs","t":697,"v":185000},{"s":"Sum CPUs","t":700,"v":205000},{"s":"Sum CPUs","t":703,"v":190000},{"s":"Sum CPUs","t":706,"v":220000},{"s":"Sum CPUs","t":708,"v":188000},{"s":"Sum CPUs","t":711,"v":210000},{"s":"Sum CPUs","t":714,"v":195000},{"s":"Sum CPUs","t":717,"v":225000},{"s":"Sum CPUs","t":719,"v":200000},{"s":"Sum CPUs","t":722,"v":215000},{"s":"Sum CPUs","t":725,"v":245000},{"s":"Sum CPUs","t":727,"v":205000},{"s":"Sum CPUs","t":730,"v":230000},{"s":"Sum CPUs","t":733,"v":198000},{"s":"Sum CPUs","t":736,"v":210000},{"s":"Sum CPUs","t":738,"v":195000},
{"s":"GPU","t":0,"v":219000},{"s":"GPU","t":2,"v":223000},{"s":"GPU","t":22,"v":223000},{"s":"GPU","t":24,"v":219000},{"s":"GPU","t":26,"v":223000},{"s":"GPU","t":46,"v":223000},{"s":"GPU","t":48,"v":219000},{"s":"GPU","t":50,"v":223000},{"s":"GPU","t":71,"v":223000},{"s":"GPU","t":73,"v":219000},{"s":"GPU","t":75,"v":223000},{"s":"GPU","t":95,"v":223000},{"s":"GPU","t":97,"v":219000},{"s":"GPU","t":99,"v":223000},{"s":"GPU","t":119,"v":223000},{"s":"GPU","t":121,"v":219000},{"s":"GPU","t":123,"v":223000},{"s":"GPU","t":144,"v":223000},{"s":"GPU","t":146,"v":219000},{"s":"GPU","t":148,"v":223000},{"s":"GPU","t":168,"v":223000},{"s":"GPU","t":170,"v":219000},{"s":"GPU","t":172,"v":223000},{"s":"GPU","t":192,"v":223000},{"s":"GPU","t":194,"v":219000},{"s":"GPU","t":196,"v":223000},{"s":"GPU","t":217,"v":223000},{"s":"GPU","t":219,"v":219000},{"s":"GPU","t":221,"v":223000},{"s":"GPU","t":241,"v":223000},{"s":"GPU","t":243,"v":219000},{"s":"GPU","t":245,"v":223000},{"s":"GPU","t":266,"v":223000},{"s":"GPU","t":268,"v":219000},{"s":"GPU","t":270,"v":223000},{"s":"GPU","t":290,"v":223000},{"s":"GPU","t":292,"v":219000},{"s":"GPU","t":294,"v":223000},{"s":"GPU","t":314,"v":223000},{"s":"GPU","t":316,"v":219000},{"s":"GPU","t":318,"v":223000},{"s":"GPU","t":339,"v":223000},{"s":"GPU","t":341,"v":219000},{"s":"GPU","t":343,"v":223000},{"s":"GPU","t":363,"v":223000},{"s":"GPU","t":365,"v":219000},{"s":"GPU","t":367,"v":223000},{"s":"GPU","t":387,"v":223000},{"s":"GPU","t":389,"v":219000},{"s":"GPU","t":391,"v":223000},{"s":"GPU","t":412,"v":223000},{"s":"GPU","t":414,"v":219000},{"s":"GPU","t":416,"v":223000},{"s":"GPU","t":436,"v":223000},{"s":"GPU","t":438,"v":219000},{"s":"GPU","t":440,"v":223000},{"s":"GPU","t":461,"v":223000},{"s":"GPU","t":463,"v":219000},{"s":"GPU","t":465,"v":223000},{"s":"GPU","t":485,"v":223000},{"s":"GPU","t":487,"v":219000},{"s":"GPU","t":489,"v":223000},{"s":"GPU","t":509,"v":223000},{"s":"GPU","t":511,"v":219000},{"s":"GPU","t":513,"v":223000},{"s":"GPU","t":534,"v":223000},{"s":"GPU","t":536,"v":219000},{"s":"GPU","t":538,"v":223000},{"s":"GPU","t":558,"v":223000},{"s":"GPU","t":560,"v":219000},{"s":"GPU","t":562,"v":223000},{"s":"GPU","t":582,"v":223000},{"s":"GPU","t":584,"v":219000},{"s":"GPU","t":586,"v":223000},{"s":"GPU","t":607,"v":223000},{"s":"GPU","t":609,"v":219000},{"s":"GPU","t":611,"v":223000},{"s":"GPU","t":631,"v":223000},{"s":"GPU","t":633,"v":219000},{"s":"GPU","t":635,"v":223000},{"s":"GPU","t":655,"v":223000},{"s":"GPU","t":657,"v":219000},{"s":"GPU","t":659,"v":223000},{"s":"GPU","t":680,"v":223000},{"s":"GPU","t":682,"v":219000},{"s":"GPU","t":684,"v":223000},{"s":"GPU","t":704,"v":223000},{"s":"GPU","t":706,"v":219000},{"s":"GPU","t":708,"v":223000},{"s":"GPU","t":728,"v":223000},{"s":"GPU","t":730,"v":219000},{"s":"GPU","t":732,"v":223000},{"s":"GPU","t":738,"v":223000}
]},
"mark": {"type": "line", "strokeJoin": "round", "strokeCap": "round", "clip": true},
"encoding": {
  "x": {"field": "t", "type": "quantitative", "scale": {"domain": [0, 738], "nice": false, "zero": false},
    "axis": {"title": "Time", "titleFont": "Liberation Serif", "titleFontSize": 26, "titleFontWeight": "bold", "titleColor": "#1a1a1a",
      "labels": false, "ticks": false, "grid": false, "domainColor": "#a6a6a6", "domainWidth": 1.5, "titlePadding": 9}},
  "y": {"field": "v", "type": "quantitative", "scale": {"domain": [0, 400000], "nice": false},
    "axis": {"title": "# Retired Inst. / Period", "values": [0, 50000, 100000, 150000, 200000, 250000, 300000, 350000, 400000], "format": "d",
      "labelFont": "Liberation Serif", "labelFontSize": 26, "labelColor": "#1a1a1a", "labelPadding": 20,
      "tickSize": 9, "tickColor": "#a6a6a6", "tickWidth": 1.5, "grid": true, "gridColor": "#a6a6a6", "gridWidth": 1.5,
      "domainColor": "#a6a6a6", "domainWidth": 1.5,
      "titleFont": "Liberation Serif", "titleFontSize": 27, "titleFontWeight": "bold", "titleColor": "#1a1a1a",
      "titleX": -129, "titleY": 188, "titleBaseline": "middle"}},
  "color": {"field": "s", "type": "nominal", "title": " ",
    "scale": {"domain": ["CPU1", "CPU2", "CPU3", "CPU4", "Sum CPUs", "GPU"], "range": ["#E37B2B", "#8C1D2E", "#10506F", "#3F7D36", "#1D275E", "#EC1C24"]}},
  "strokeWidth": {"field": "s", "type": "nominal", "title": " ",
    "scale": {"type": "ordinal", "domain": ["CPU1", "CPU2", "CPU3", "CPU4", "Sum CPUs", "GPU"], "range": [2, 2.2, 3.2, 2.2, 7, 9]}}
}
}
